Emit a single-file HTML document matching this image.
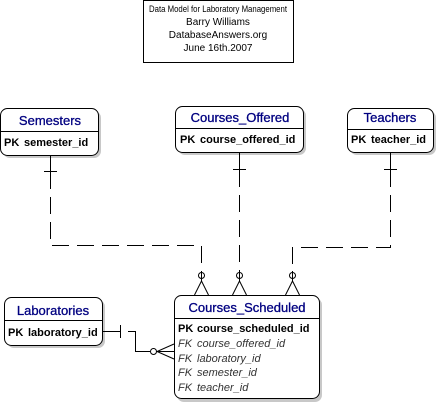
<!DOCTYPE html>
<html><head><meta charset="utf-8"><style>
html,body{margin:0;padding:0;background:#fff;width:438px;height:408px;overflow:hidden}
svg{display:block}
text{font-family:"Liberation Sans",Arial,sans-serif}
</style></head><body>
<svg width="438" height="408" viewBox="0 0 438 408" xmlns="http://www.w3.org/2000/svg">
<rect x="143.5" y="0.5" width="150" height="62" fill="#fff" stroke="#000"/>
<g font-size="10" text-anchor="middle" fill="#000">
<text x="218" y="12" font-size="9" textLength="138" lengthAdjust="spacingAndGlyphs">Data Model for Laboratory Management</text>
<text x="218" y="25">Barry Williams</text>
<text x="218" y="38">DatabaseAnswers.org</text>
<text x="218" y="51">June 16th.2007</text>
</g>
<g fill="#c8c8c8">
<rect x="3" y="111" width="98" height="47" rx="7"/>
<rect x="178" y="109" width="128" height="46" rx="7"/>
<rect x="350" y="111" width="86" height="44" rx="7"/>
<rect x="7" y="300" width="98" height="48" rx="7"/>
<rect x="177" y="298" width="145" height="104" rx="7"/>
</g>
<g fill="#fff" stroke="#000" stroke-width="1">
<rect x="0.5" y="108.5" width="98" height="47" rx="7"/>
<rect x="175.5" y="106.5" width="128" height="46" rx="7"/>
<rect x="347.5" y="108.5" width="86" height="44" rx="7"/>
<rect x="4.5" y="297.5" width="98" height="48" rx="7"/>
<rect x="174.5" y="295.5" width="145" height="103" rx="7"/>
<line x1="0.5" y1="131.5" x2="98.5" y2="131.5"/>
<line x1="175.5" y1="128.5" x2="303.5" y2="128.5"/>
<line x1="347.5" y1="129.5" x2="433.5" y2="129.5"/>
<line x1="4.5" y1="320.5" x2="102.5" y2="320.5"/>
<line x1="174.5" y1="318.5" x2="319.5" y2="318.5"/>
</g>
<g font-size="13" fill="#000080" text-anchor="middle" stroke="#000080" stroke-width="0.3">
<text x="50" y="125">Semesters</text>
<text x="240" y="122">Courses_Offered</text>
<text x="390" y="122">Teachers</text>
<text x="53" y="315">Laboratories</text>
<text x="247" y="312">Courses_Scheduled</text>
</g>
<g font-size="11" font-weight="bold" fill="#000">
<text x="4" y="146">PK</text><text x="24" y="146">semester_id</text>
<text x="180" y="143">PK</text><text x="200" y="143">course_offered_id</text>
<text x="351" y="143">PK</text><text x="371" y="143">teacher_id</text>
<text x="8" y="336">PK</text><text x="28" y="336">laboratory_id</text>
<text x="178" y="332">PK</text><text x="197" y="332">course_scheduled_id</text>
</g>
<g font-size="11" font-style="italic" fill="#333">
<text x="178" y="347">FK</text><text x="197" y="347">course_offered_id</text>
<text x="178" y="362">FK</text><text x="197" y="362">laboratory_id</text>
<text x="178" y="376">FK</text><text x="197" y="376">semester_id</text>
<text x="178" y="391">FK</text><text x="197" y="391">teacher_id</text>
</g>
<g stroke="#000" stroke-width="1" fill="none">
<line x1="50.5" y1="156" x2="50.5" y2="172"/>
<line x1="44" y1="171.5" x2="57" y2="171.5"/>
<polyline points="50.5,172 50.5,245.5 201.5,245.5 201.5,272" stroke-dasharray="17,8"/>
<line x1="239.5" y1="153" x2="239.5" y2="170"/>
<line x1="233" y1="169.5" x2="246" y2="169.5"/>
<line x1="239.5" y1="170" x2="239.5" y2="272" stroke-dasharray="17,8"/>
<line x1="390.5" y1="153" x2="390.5" y2="170"/>
<line x1="384" y1="169.5" x2="397" y2="169.5"/>
<polyline points="390.5,170 390.5,247.5 292.5,247.5 292.5,272" stroke-dasharray="17,8"/>
<circle cx="201.5" cy="275.5" r="3"/><line x1="201.5" y1="271" x2="201.5" y2="281"/>
<polyline points="194.5,295 201.5,281 208.5,295"/>
<circle cx="239.5" cy="275.5" r="3"/><line x1="239.5" y1="271" x2="239.5" y2="281"/>
<polyline points="232.5,295 239.5,281 246.5,295"/>
<circle cx="292.5" cy="275.5" r="3"/><line x1="292.5" y1="271" x2="292.5" y2="281"/>
<polyline points="285.5,295 292.5,281 299.5,295"/>
<line x1="103" y1="331.5" x2="121" y2="331.5"/>
<line x1="120.5" y1="325" x2="120.5" y2="338"/>
<polyline points="128,331.5 135.5,331.5 135.5,351.5 150,351.5"/>
<circle cx="153.5" cy="351.5" r="3"/>
<polyline points="174,344 157,351.5 174,359"/>
<line x1="157" y1="351.5" x2="174" y2="351.5"/>
</g>
</svg>
</body></html>
